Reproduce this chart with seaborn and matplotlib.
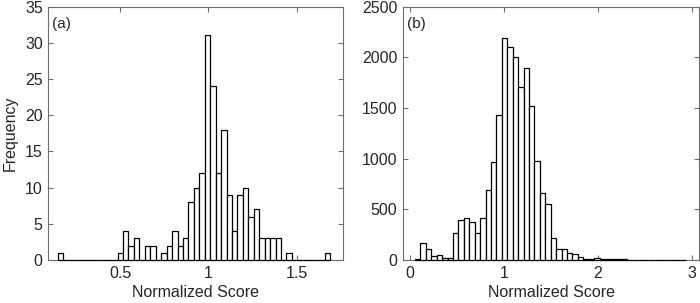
import numpy as np
import pandas as pd
import matplotlib
matplotlib.use("Agg")
import matplotlib.pyplot as plt
import seaborn as sns

# ---- data ----
# panel (a): 50 equal-width bins from 0.146 to 1.69
a_range = (0.146, 1.69)
a_counts = [1, 0, 0, 0, 0, 0, 0, 0, 0, 0, 0,
            1, 4, 2, 3, 0, 2, 2, 0, 1, 2, 4, 2, 3, 8, 10, 12, 31, 24, 12, 18,
            9, 4, 9, 10, 6, 7, 3, 3, 3, 3, 0, 1,
            0, 0, 0, 0, 0, 0, 1]
# panel (b): 50 equal-width bins from 0.053 to 2.943
b_range = (0.053, 2.943)
b_counts = [8, 164, 105, 39, 46, 23, 20, 262, 393, 410, 377, 262, 416, 695,
            964, 1430, 2190, 2098, 2007, 1705, 1892, 1521, 980, 656, 554, 219,
            105, 105, 69, 59, 26, 13, 10, 20, 13, 8,
            7, 5, 5, 4, 4, 3, 3, 2, 2, 3, 2, 2, 1, 3]
a_xticks = [0.5, 1, 1.5]
a_xticklabels = ["0.5", "1", "1.5"]
b_xticks = [0, 1, 2, 3]
a_yticks = list(range(0, 36, 5))
b_yticks = list(range(0, 2501, 500))
panel_labels = ["(a)", "(b)"]
xlabel = "Normalized Score"
ylabel = "Frequency"

sns.set_style("white")
plt.rcParams['font.family'] = ['Liberation Sans', 'DejaVu Sans']
plt.rcParams['font.size'] = 11

fig = plt.figure(figsize=(7.0, 3.03), dpi=100)
axA = fig.add_axes([0.069, 0.1419, 0.4214, 0.8366])
axB = fig.add_axes([0.5753, 0.1419, 0.4237, 0.8366])

def draw(ax, rng, counts):
    n = len(counts)
    edges = np.linspace(rng[0], rng[1], n + 1)
    df = pd.DataFrame({"score": (edges[:-1] + edges[1:]) / 2,
                       "count": np.asarray(counts, dtype=float)})
    sns.histplot(data=df, x="score", weights="count", bins=n,
                 binrange=rng, ax=ax,
                 color="white", edgecolor="black", linewidth=0.9,
                 alpha=1.0, stat="count")
    for p in ax.patches:
        p.set_zorder(3)
        p.set_clip_on(False)

draw(axA, a_range, a_counts)
draw(axB, b_range, b_counts)

axA.set_xlim(0.093, 1.765)
axA.set_ylim(0, 35)
axA.set_xticks(a_xticks)
axA.set_xticklabels(a_xticklabels)
axA.set_yticks(a_yticks)
axB.set_xlim(-0.078, 3.08)
axB.set_ylim(0, 2500)
axB.set_xticks(b_xticks)
axB.set_yticks(b_yticks)

for ax, lab in zip([axA, axB], panel_labels):
    ax.set_facecolor("white")
    for s in ax.spines.values():
        s.set_visible(True)
        s.set_color("#6e6e6e")
        s.set_linewidth(0.8)
    ax.tick_params(direction="in", length=3.5, width=0.8, color="#6e6e6e",
                   top=True, right=True, bottom=True, left=True,
                   labelsize=11.5, labelcolor="#262626", pad=4)
    ax.set_xlabel(xlabel, fontsize=11.5, color="#262626", labelpad=3)
    ax.set_ylabel("")
    ax.text(0.014, 0.93, lab, transform=ax.transAxes, fontsize=11,
            color="#262626", va="center", ha="left")

axA.set_ylabel(ylabel, fontsize=11.5, color="#262626", labelpad=5)

fig.savefig("out.png", dpi=100)
